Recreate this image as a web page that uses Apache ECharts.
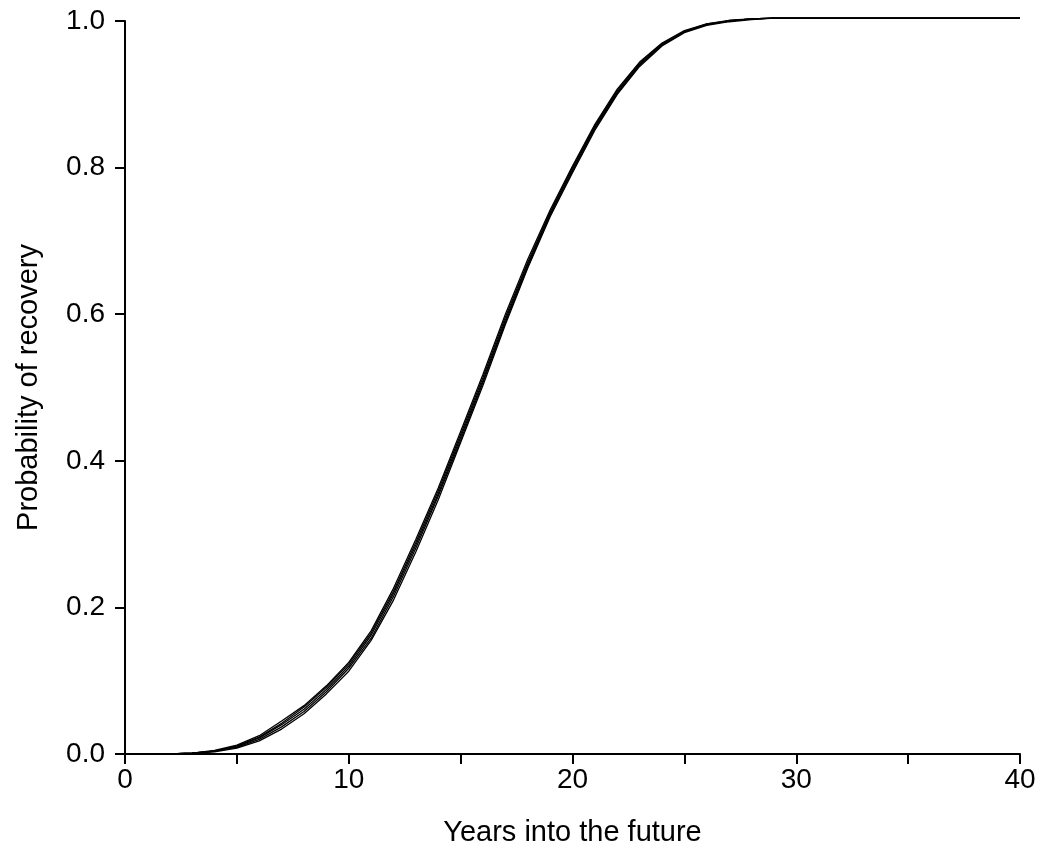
<!DOCTYPE html>
<html>
<head>
<meta charset="utf-8">
<script src="https://cdn.jsdelivr.net/npm/echarts@6/dist/echarts.min.js"></script>
<style>
  html, body { margin: 0; padding: 0; background: #fff; }
  #chart { width: 1044px; height: 860px; }
</style>
</head>
<body>
<div id="chart"></div>
<script>
// years 0..40
const years = Array.from({ length: 41 }, (_, i) => i);

// several simulated recovery curves (they nearly overlap)
const runA = [0, 0, 0, 0.001, 0.004, 0.010, 0.022, 0.040, 0.061, 0.088, 0.120, 0.162, 0.219, 0.285, 0.355, 0.432, 0.510, 0.592, 0.668, 0.737, 0.797, 0.855, 0.903, 0.941, 0.968, 0.985, 0.995, 1.0, 1.003, 1.004, 1.004, 1.004, 1.004, 1.004, 1.004, 1.004, 1.004, 1.004, 1.004, 1.004, 1.004];
const runB = [0, 0, 0, 0.001, 0.003, 0.008, 0.018, 0.034, 0.055, 0.082, 0.113, 0.155, 0.210, 0.276, 0.347, 0.425, 0.503, 0.586, 0.663, 0.733, 0.793, 0.851, 0.900, 0.938, 0.966, 0.984, 0.994, 0.999, 1.002, 1.004, 1.004, 1.004, 1.004, 1.004, 1.004, 1.004, 1.004, 1.004, 1.004, 1.004, 1.004];
const runC = [0, 0, 0, 0.001, 0.005, 0.012, 0.025, 0.045, 0.066, 0.093, 0.125, 0.168, 0.226, 0.293, 0.363, 0.440, 0.518, 0.600, 0.675, 0.742, 0.802, 0.859, 0.907, 0.944, 0.970, 0.987, 0.996, 1.001, 1.003, 1.004, 1.004, 1.004, 1.004, 1.004, 1.004, 1.004, 1.004, 1.004, 1.004, 1.004, 1.004];
const runD = [0, 0, 0, 0.001, 0.004, 0.009, 0.020, 0.037, 0.058, 0.085, 0.117, 0.158, 0.215, 0.281, 0.352, 0.428, 0.507, 0.589, 0.665, 0.735, 0.795, 0.853, 0.901, 0.940, 0.967, 0.985, 0.995, 1.0, 1.003, 1.004, 1.004, 1.004, 1.004, 1.004, 1.004, 1.004, 1.004, 1.004, 1.004, 1.004, 1.004];
const runE = [0, 0, 0, 0.001, 0.004, 0.011, 0.023, 0.042, 0.064, 0.091, 0.123, 0.165, 0.222, 0.289, 0.359, 0.436, 0.514, 0.596, 0.671, 0.739, 0.800, 0.857, 0.905, 0.943, 0.969, 0.986, 0.996, 1.0, 1.003, 1.004, 1.004, 1.004, 1.004, 1.004, 1.004, 1.004, 1.004, 1.004, 1.004, 1.004, 1.004];
const runs = [runA, runB, runC, runD, runE];

const yTicks = ['0.0', '0.2', '0.4', '0.6', '0.8', '1.0'];

const font = '"Liberation Sans", Arial, sans-serif';

const chart = echarts.init(document.getElementById('chart'), null, { renderer: 'canvas' });

const option = {
  animation: false,
  backgroundColor: '#fff',
  grid: { left: 125, right: 24, top: 21, bottom: 106 },
  xAxis: {
    type: 'value',
    min: 0,
    max: 40,
    interval: 5,
    name: 'Years into the future',
    nameLocation: 'middle',
    nameGap: 64,
    nameTextStyle: { color: '#000', fontSize: 29, fontFamily: font },
    axisLine: { onZero: false, lineStyle: { color: '#000', width: 2 } },
    axisTick: { length: 10, lineStyle: { color: '#000', width: 2 } },
    axisLabel: {
      color: '#000', fontSize: 28, fontFamily: font, margin: 12,
      formatter: v => (v % 10 === 0 ? String(v) : '')
    },
    splitLine: { show: false }
  },
  yAxis: {
    type: 'value',
    min: 0,
    max: 1,
    interval: 0.2,
    name: 'Probability of recovery',
    nameLocation: 'middle',
    nameGap: 82,
    nameTextStyle: { color: '#000', fontSize: 29, fontFamily: font },
    axisLine: { lineStyle: { color: '#000', width: 2 } },
    axisTick: { length: 10, lineStyle: { color: '#000', width: 2 } },
    axisLabel: {
      color: '#000', fontSize: 28, fontFamily: font, margin: 20,
      formatter: v => yTicks[Math.round(v / 0.2)]
    },
    splitLine: { show: false }
  },
  series: runs.map(r => ({
    type: 'line',
    data: years.map((x, i) => [x, r[i]]),
    showSymbol: false,
    clip: false,
    lineStyle: { color: '#000', width: 1.3 }
  }))
};

chart.setOption(option);
</script>
</body>
</html>
